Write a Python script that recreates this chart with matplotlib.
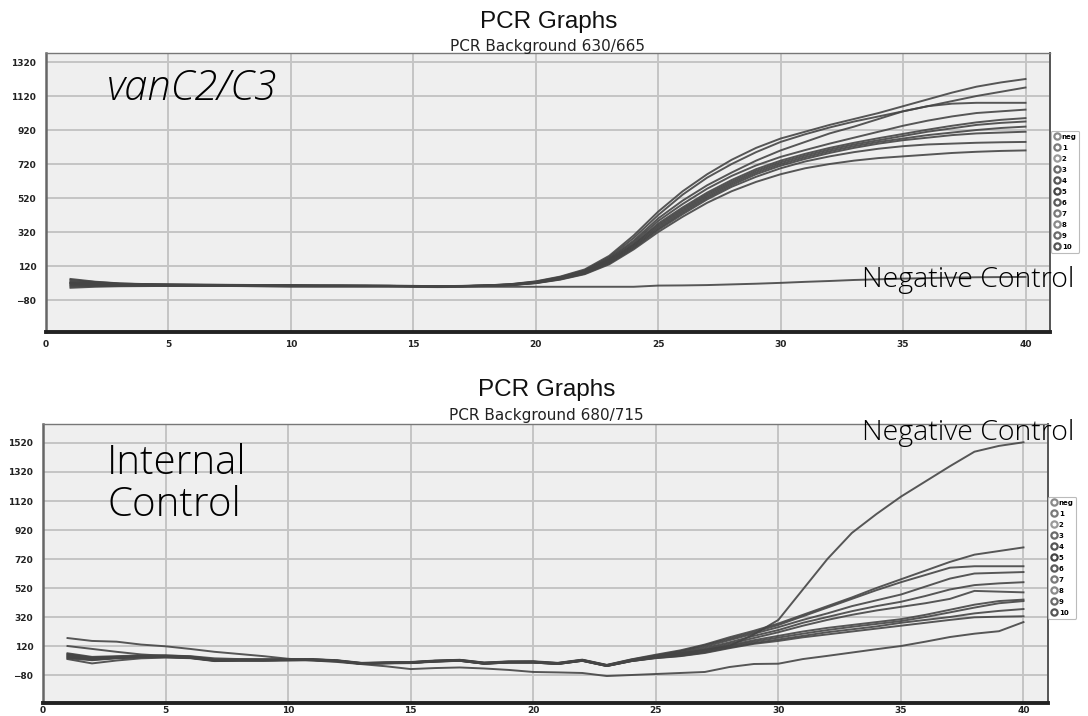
import matplotlib
matplotlib.use("Agg")
import matplotlib.pyplot as plt
from matplotlib.lines import Line2D

cycles = list(range(1, 41))
labels = ["neg", "1", "2", "3", "4", "5", "6", "7", "8", "9", "10"]

# ---- top panel: vanC2/C3 (630/665) ----
top_neg = [20,12,8,6,5,4,3,2,0,-2,-2,-2,-2,-2,-3,-4,-3,-2,-2,-2,-2,-2,-2,-2,5,6,8,12,16,21,27,32,38,42,46,49,52,54,55,56]
top_s1 = [44,28,18,14,12,11,10,9,8,6,5,5,5,4,3,2,3,6,14,30,58,100,180,300,440,560,660,745,815,870,910,950,985,1020,1060,1100,1140,1175,1200,1220]
top_s2 = [38,26,17,13,11,10,9,8,7,6,5,5,4,4,3,2,3,6,13,28,55,95,172,285,420,540,640,720,790,850,895,935,970,1000,1030,1060,1090,1120,1145,1170]
top_s3 = [30,22,15,12,10,9,8,7,6,5,5,4,4,3,2,1,2,5,12,26,52,90,165,270,400,505,595,670,740,800,850,900,940,985,1030,1060,1075,1080,1080,1080]
top_s4 = [25,18,13,11,10,9,8,7,6,5,4,4,4,3,2,1,2,5,11,25,50,88,160,260,385,485,575,650,712,762,802,840,875,910,945,975,1000,1020,1030,1040]
top_s5 = [20,15,12,10,9,8,7,7,6,5,4,4,3,3,2,1,2,4,10,24,48,85,155,250,370,465,552,626,690,740,780,815,845,872,897,922,945,965,980,990]
top_s6 = [15,12,10,9,8,8,7,6,5,5,4,4,3,3,2,1,2,4,10,23,46,82,150,245,360,455,542,616,680,730,770,805,835,860,885,910,930,950,962,970]
top_s7 = [10,9,8,8,7,7,6,6,5,4,4,3,3,3,2,1,2,4,9,22,45,80,145,238,350,445,532,606,670,720,760,795,825,850,870,890,905,920,932,940]
top_s8 = [5,6,6,6,6,6,5,5,4,4,3,3,3,2,2,1,2,4,9,21,44,78,140,232,340,435,522,596,660,710,750,785,815,840,860,875,890,900,905,910]
top_s9 = [0,2,3,4,4,4,4,4,4,3,3,3,2,2,1,0,1,3,8,20,42,75,135,225,332,425,512,586,645,695,735,765,790,810,825,835,840,845,848,850]
top_s10 = [-8,-2,1,2,3,3,3,3,3,3,2,2,2,2,1,0,1,3,8,19,40,72,130,218,320,410,492,560,615,660,695,720,740,755,765,775,785,792,797,800]
top_series = [top_neg, top_s1, top_s2, top_s3, top_s4, top_s5, top_s6, top_s7, top_s8, top_s9, top_s10]
top_yticks = [-80, 120, 320, 520, 720, 920, 1120, 1320]

# ---- bottom panel: Internal Control (680/715) ----
bot_neg = [60,40,45,50,55,50,35,30,28,25,22,18,-2,5,8,15,22,-2,10,12,-2,22,-15,20,50,70,95,120,200,300,510,720,900,1030,1150,1255,1360,1460,1500,1525]
bot_s1 = [70,45,50,55,55,48,28,28,28,30,30,22,4,8,10,20,25,6,14,15,4,26,-10,28,60,90,130,180,225,275,335,395,455,520,580,640,700,750,775,800]
bot_s2 = [45,25,38,45,48,42,22,24,24,26,28,20,2,5,8,18,22,4,12,12,2,24,-12,26,55,85,125,170,215,265,325,385,445,505,560,610,660,670,670,670]
bot_s3 = [55,35,42,48,50,45,24,26,26,28,28,20,2,6,8,18,24,5,12,12,2,24,-12,24,52,80,115,160,205,250,300,345,395,435,475,530,585,620,625,630]
bot_s4 = [40,28,38,44,46,40,20,22,22,24,26,18,0,4,6,16,22,2,10,10,0,22,-14,22,48,72,105,145,190,230,280,320,360,395,425,465,510,540,552,560]
bot_s5 = [35,22,35,42,44,38,18,20,20,22,24,16,-2,2,4,14,20,0,8,8,-2,20,-16,20,45,65,95,135,175,215,260,300,335,365,390,415,445,500,495,490]
bot_s6 = [50,30,40,45,45,40,20,22,22,24,24,16,-2,2,4,14,20,0,8,8,-2,20,-16,18,42,60,88,125,160,190,220,245,265,285,305,335,370,405,430,440]
bot_s7 = [65,40,45,48,46,40,20,22,22,24,24,16,-2,2,4,14,18,-2,6,6,-4,18,-18,16,40,56,82,118,150,178,205,230,252,272,292,320,352,385,415,430]
bot_s8 = [30,0,20,35,40,36,16,18,18,20,22,14,-4,0,2,12,18,-2,6,6,-4,18,-18,16,38,52,76,110,140,165,190,215,235,255,280,300,320,345,362,375]
bot_s9 = [120,100,80,62,52,44,22,22,22,24,24,16,-2,2,4,14,18,-2,6,6,-4,18,-18,16,36,50,72,105,135,155,180,200,220,240,260,280,300,318,322,325]
bot_s10 = [175,155,150,130,118,100,80,65,50,32,20,10,-5,-20,-39,-32,-28,-35,-45,-59,-62,-66,-87,-80,-73,-66,-59,-25,-4,-2,30,52,75,98,120,150,182,205,222,285]
bot_series = [bot_neg, bot_s1, bot_s2, bot_s3, bot_s4, bot_s5, bot_s6, bot_s7, bot_s8, bot_s9, bot_s10]
bot_yticks = [-80, 120, 320, 520, 720, 920, 1120, 1320, 1520]

xticks = [0, 5, 10, 15, 20, 25, 30, 35, 40]
legend_shades = ["#8a8a8a", "#7a7a7a", "#9a9a9a", "#6a6a6a", "#555555", "#444444",
                 "#5a5a5a", "#7a7a7a", "#8a8a8a", "#6a6a6a", "#555555"]

W, H = 1088, 716
fig = plt.figure(figsize=(W / 100, H / 100), dpi=100)
fig.patch.set_facecolor("white")

def fx(px):
    return px / W

def fy(py):
    return 1 - py / H

def make_axes(left, top, right, bottom):
    return fig.add_axes([fx(left), fy(bottom), fx(right) - fx(left), (bottom - top) / H])

def style(ax, series, yticks, ylim, xpad):
    ax.set_facecolor("#efefef")
    for s in series:
        ax.plot(cycles, s, color="#454545", lw=1.4, alpha=0.9, zorder=3)
    ax.set_xlim(0, 41)
    ax.set_ylim(*ylim)
    ax.set_xticks(xticks)
    ax.set_yticks(yticks)
    ax.grid(True, color="#c4c4c4", lw=1.4, zorder=0)
    ax.set_axisbelow(True)
    ax.tick_params(length=0, labelsize=6.5, colors="#222222")
    ax.tick_params(axis="y", pad=7)
    ax.tick_params(axis="x", pad=xpad)
    for lab in ax.get_xticklabels() + ax.get_yticklabels():
        lab.set_fontweight("bold")
    ax.spines["bottom"].set_color("#222222")
    ax.spines["bottom"].set_linewidth(2.8)
    ax.spines["left"].set_color("#666666")
    ax.spines["left"].set_linewidth(1.8)
    ax.spines["top"].set_color("#777777")
    ax.spines["top"].set_linewidth(1.0)
    ax.spines["right"].set_color("#555555")
    ax.spines["right"].set_linewidth(1.4)

def add_legend(x_px, y_px):
    handles = [Line2D([], [], marker="o", ls="none", mfc="none", mec=c, mew=1.6, ms=4.5)
               for c in legend_shades]
    leg = fig.legend(handles, labels, loc="upper left",
                     bbox_to_anchor=(fx(x_px), fy(y_px)),
                     prop={"size": 5, "weight": "bold"},
                     labelspacing=0.72, handletextpad=0.25, handlelength=0.9,
                     borderpad=0.4, borderaxespad=0, frameon=True, fancybox=True,
                     edgecolor="#bbbbbb", framealpha=1)
    leg.get_frame().set_linewidth(0.8)

big_font = dict(family=["Open Sans", "DejaVu Sans"], fontweight="light", color="#000000")
title_font = dict(family=["Liberation Sans", "DejaVu Sans"], color="#111111")

# top axes
ax1 = make_axes(46, 53, 1050, 332)
style(ax1, top_series, top_yticks, (-268, 1373), 6)
fig.text(fx(549), fy(22), "PCR Graphs", ha="center", va="center", fontsize=17.5, **title_font)
fig.text(fx(547), fy(46), "PCR Background 630/665", ha="center", va="center", fontsize=11,
         family=["DejaVu Sans"], color="#222222")
fig.text(fx(107), fy(89), "vanC2/C3", ha="left", va="center", fontsize=30,
         style="italic", **big_font)
fig.text(fx(862), fy(280), "Negative Control", ha="left", va="center", fontsize=20.5, **big_font)
add_legend(1051, 131)

# bottom axes
ax2 = make_axes(43, 424, 1048, 703)
style(ax2, bot_series, bot_yticks, (-273, 1651), 2)
fig.text(fx(547), fy(390), "PCR Graphs", ha="center", va="center", fontsize=17.5, **title_font)
fig.text(fx(546), fy(415), "PCR Background 680/715", ha="center", va="center", fontsize=11,
         family=["DejaVu Sans"], color="#222222")
fig.text(fx(107), fy(463), "Internal", ha="left", va="center", fontsize=29, **big_font)
fig.text(fx(107), fy(505), "Control", ha="left", va="center", fontsize=29, **big_font)
fig.text(fx(862), fy(433), "Negative Control", ha="left", va="center", fontsize=20.5, **big_font)
add_legend(1048, 497)

fig.savefig("out.png", dpi=100, facecolor="white")
